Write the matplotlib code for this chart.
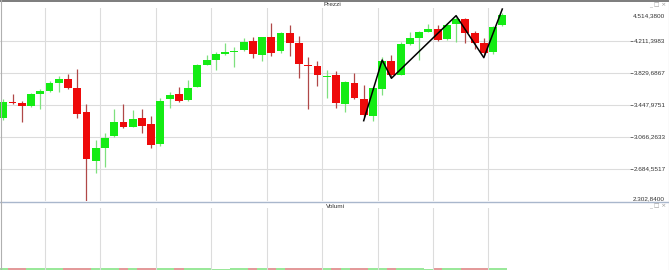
import numpy as np
import matplotlib
matplotlib.use("Agg")
import matplotlib.pyplot as plt
from matplotlib.lines import Line2D

# dati (OHLC giornalieri)
opens = [3286, 3486, 3465, 3432, 3579, 3615, 3710, 3755, 3647, 3361,
         2773, 2935, 3071, 3242, 3186, 3289, 3214, 2976, 3512, 3572,
         3504, 3663, 3925, 3981, 4056, 4077, 4100, 4208, 4044, 4256,
         4085, 4303, 4184, 3922, 3906, 3775, 3802, 3456, 3707, 3520,
         3317, 3632, 3973, 3806, 4172, 4247, 4319, 4355, 4228, 4407,
         4470, 4300, 4180, 4073, 4399]
highs = [3516, 3576, 3492, 3584, 3639, 3731, 3790, 3814, 3870, 3453,
         3027, 3107, 3400, 3453, 3385, 3400, 3310, 3531, 3603, 3656,
         3743, 3930, 4037, 4080, 4180, 4140, 4240, 4252, 4259, 4419,
         4315, 4399, 4267, 4021, 3969, 3862, 3854, 3734, 3823, 3679,
         3663, 4021, 4041, 4199, 4312, 4327, 4407, 4402, 4419, 4498,
         4479, 4327, 4240, 4387, 4538]
lows = [3265, 3456, 3245, 3417, 3397, 3603, 3603, 3635, 3286, 2300,
        2637, 2708, 3059, 3174, 3178, 3107, 2928, 2955, 3405, 3477,
        3496, 3656, 3918, 3862, 4044, 3901, 4089, 4009, 3969, 4029,
        4061, 4032, 3770, 3393, 3675, 3524, 3412, 3357, 3512, 3305,
        3257, 3564, 3782, 3799, 4157, 3981, 4312, 4211, 4220, 4192,
        4180, 4109, 4041, 4053, 4390]
closes = [3484, 3474, 3436, 3572, 3611, 3707, 3751, 3644, 3337, 2797,
          2935, 3054, 3238, 3182, 3281, 3197, 2967, 3496, 3560, 3489,
          3644, 3922, 3978, 4049, 4071, 4092, 4199, 4053, 4252, 4068,
          4300, 4184, 3933, 3910, 3806, 3787, 3465, 3722, 3528, 3325,
          3647, 3969, 3802, 4172, 4240, 4315, 4355, 4220, 4399, 4470,
          4300, 4180, 4068, 4378, 4518]
volumes = [52, 48, 50, 47, 51, 49, 53, 55, 58, 60,
           57, 54, 52, 50, 49, 51, 53, 56, 50, 48,
           47, 52, 49, 46, 45, 47, 50, 51, 49, 52,
           48, 50, 54, 55, 53, 51, 56, 55, 52, 54,
           57, 53, 51, 50, 48, 47, 46, 49, 48, 47,
           50, 52, 51, 49, 48]

# linea a zig-zag disegnata sopra le candele
zz_idx = [39, 41, 42, 49, 52, 54]
zz_price = [3257, 3981, 3763, 4510, 4009, 4589]

y_ticks = [2684.5517, 3066.2633, 3447.9751, 3829.6867, 4211.3983]
y_bottom = 2302.8400
y_last = 4514.3800


def fmt_it(v):
    s = f"{v:,.4f}"
    return s.replace(",", "X").replace(".", ",").replace("X", ".")


W, H = 669, 270
fig = plt.figure(figsize=(W / 100, H / 100), dpi=100)
fig.patch.set_facecolor("white")

GREEN = "#14ec14"
RED = "#ee0a0a"
GRID = "#dcdcdc"
FONT = "Liberation Sans"
LBL = 4.6

ax = fig.add_axes([0, (H - 200.7) / H, 630 / W, (200.7 - 8) / H])
x = np.arange(len(opens))
o = np.array(opens, float)
c = np.array(closes, float)
up = c >= o
col = np.where(up, GREEN, RED)
wick_col = np.where(up, "#7ee07e", "#b04848")

ax.vlines(x, lows, highs, colors=wick_col, linewidth=0.9, zorder=2)
body_h = np.maximum(np.abs(c - o), 12)
ax.bar(x, body_h, bottom=np.minimum(o, c), width=0.85, color=col,
       edgecolor="none", zorder=3)
ax.plot(zz_idx, zz_price, color="black", linewidth=1.1, zorder=4)

ax.set_xlim(-0.36, 67.82)
ax.set_ylim(y_bottom, 4601.4)
ax.set_xticks(np.arange(4.5, 55, 6))
ax.set_yticks(y_ticks)
ax.grid(True, color=GRID, linewidth=0.8, zorder=0)
ax.tick_params(axis="x", length=0, labelbottom=False)
ax.yaxis.tick_right()
ax.tick_params(axis="y", length=2.0, width=0.6, color="#555555", pad=0.8,
               labelsize=LBL, labelcolor="#333333")
ax.set_yticklabels([fmt_it(v) for v in y_ticks], fontfamily=FONT)
for s in ax.spines.values():
    s.set_visible(False)

for v, val in [(y_last, y_last), (y_bottom + 25, y_bottom)]:
    ax.annotate(fmt_it(val), xy=(1.0, v), xycoords=("axes fraction", "data"),
                xytext=(2.2, 0), textcoords="offset points", ha="left",
                va="center", fontsize=LBL, color="#333333", fontfamily=FONT)

# pannello volumi
axv = fig.add_axes([0, 0, 630 / W, 62 / H])
axv.bar(x, volumes, width=1.0, color=np.where(up, "#9ae89a", "#e39a9a"),
        edgecolor="none")
axv.set_xlim(-0.36, 67.82)
axv.set_ylim(0, max(volumes) * 32)
axv.set_xticks(np.arange(4.5, 55, 6))
axv.set_yticks([])
axv.grid(True, axis="x", color=GRID, linewidth=0.8)
axv.tick_params(axis="x", length=0, labelbottom=False)
for s in axv.spines.values():
    s.set_visible(False)

# titoli dei pannelli e bordi della finestra
fig.text(332 / W, 1 - 5 / H, "Prezzi", ha="center", va="center",
         fontsize=LBL, color="#333333", fontfamily=FONT)
fig.text(335 / W, 1 - 207 / H, "Volumi", ha="center", va="center",
         fontsize=LBL, color="#333333", fontfamily=FONT)
for yy in [5, 206]:
    fig.text(658 / W, 1 - yy / H, "_ □ ×", ha="center", va="center",
             fontsize=4.2, color="#999999", fontfamily="DejaVu Sans")

fig.add_artist(Line2D([0, 1], [1 - 0.5 / H, 1 - 0.5 / H], color="#666666",
                      linewidth=1.2))
fig.add_artist(Line2D([0, 1], [1 - 201.5 / H, 1 - 201.5 / H],
                      color="#a9b7cc", linewidth=1.0))
fig.add_artist(Line2D([0.5 / W, 0.5 / W], [0, 1], color="#b0b0b0",
                      linewidth=0.8))
fig.add_artist(Line2D([1 - 0.5 / W, 1 - 0.5 / W], [0, 1], color="#b0b0b0",
                      linewidth=0.8))

fig.savefig("out.png", dpi=100)
